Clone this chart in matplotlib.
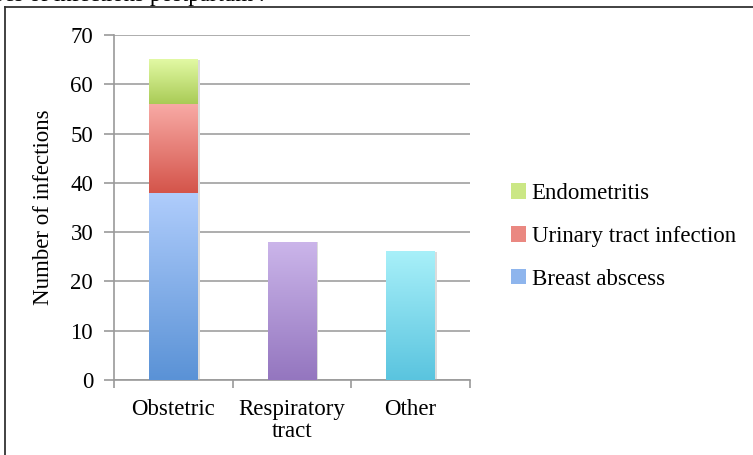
"""Stacked bar chart of postpartum infection types."""

import numpy as np
import matplotlib
matplotlib.use('Agg')
import matplotlib.pyplot as plt
from matplotlib.colors import LinearSegmentedColormap
from matplotlib.lines import Line2D
from matplotlib.patches import Patch

categories = ['Obstetric', 'Respiratory\ntract', 'Other']
breast_abscess = [38, 0, 0]
urinary_tract = [18, 0, 0]
endometritis = [9, 0, 0]
respiratory = [0, 28, 0]
other = [0, 0, 26]

series = [
    ('Breast abscess', breast_abscess, ('#5a92d6', '#b0cdfc')),
    ('Urinary tract infection', urinary_tract, ('#d4544a', '#f8aaa5')),
    ('Endometritis', endometritis, ('#a9cb56', '#e2f9a4')),
    (None, respiratory, ('#9476bf', '#cbb5ea')),
    (None, other, ('#5ac4df', '#a8f0f9')),
]

plt.rcParams['font.family'] = ['Liberation Serif', 'DejaVu Serif']
FS = 16.5

fig = plt.figure(figsize=(7.53, 4.55), dpi=100)
W, H = 753, 455
ax = fig.add_axes([114 / W, 1 - 380 / H, (470 - 114) / W, (380 - 35) / H])

x = np.arange(len(categories))
bottom = np.zeros(len(categories))
width = 0.41
grad = np.linspace(0, 1, 256).reshape(-1, 1)
handles = []
for label, vals, (c_lo, c_hi) in series:
    vals = np.array(vals, dtype=float)
    bars = ax.bar(x, vals, width, bottom=bottom, color='none', edgecolor='none', zorder=3)
    cmap = LinearSegmentedColormap.from_list('g', [c_lo, c_hi])
    for b in bars:
        if b.get_height() <= 0:
            continue
        x0, y0 = b.get_x(), b.get_y()
        ax.imshow(grad, cmap=cmap, origin='lower', aspect='auto', zorder=3,
                  extent=[x0, x0 + b.get_width(), y0, y0 + b.get_height()])
        # soft shadow on right
        ax.bar(b.get_x() + b.get_width() + 0.008, b.get_height(), 0.016, bottom=y0,
               align='center', color='#dcdcdc', edgecolor='none', zorder=2)
    if label:
        handles.append(Patch(facecolor=cmap(0.6), edgecolor='none', label=label))
    bottom += vals

ax.set_xlim(-0.5, len(categories) - 0.5)
ax.set_ylim(0, 70)
ax.set_yticks(range(0, 71, 10))
ax.set_xticks(np.arange(-0.5, len(categories), 1.0))
ax.set_xticklabels([])
ax.set_xticks(x, minor=True)
ax.set_xticklabels(categories, minor=True, fontsize=FS, linespacing=1.05)
ax.tick_params(axis='x', which='minor', length=0, pad=14)
ax.tick_params(axis='x', which='major', length=6, color='#9a9a9a', width=1.2)
ax.tick_params(axis='y', length=7, color='#9a9a9a', width=1.2, labelsize=FS, pad=8)
ax.yaxis.grid(True, color='#a0a0a0', linewidth=1.2, zorder=0)
ax.set_axisbelow(True)
for s in ['top', 'right']:
    ax.spines[s].set_visible(False)
for s in ['left', 'bottom']:
    ax.spines[s].set_color('#9a9a9a')
    ax.spines[s].set_linewidth(1.2)
ax.set_ylabel('Number of infections', fontsize=FS, labelpad=12)

fig.legend(handles=handles[::-1], loc='upper left', bbox_to_anchor=(502 / W, 1 - 174 / H),
           frameon=False, fontsize=FS, handlelength=0.65, handleheight=0.65,
           handletextpad=0.25, labelspacing=0.95, borderaxespad=0)

# outer frame
fig.add_artist(Line2D([5 / W, 5 / W], [0, 1 - 7 / H], color='#333333', lw=1.3))
fig.add_artist(Line2D([5 / W, 1], [1 - 7 / H, 1 - 7 / H], color='#333333', lw=1.3))
# clipped caption above the frame (cut off in the source too)
fig.text(265 / W, 1 - 0.5 / H, 'Types of infections postpartum .', ha='right',
         va='baseline', fontsize=FS)

fig.savefig('out.png', dpi=100)
